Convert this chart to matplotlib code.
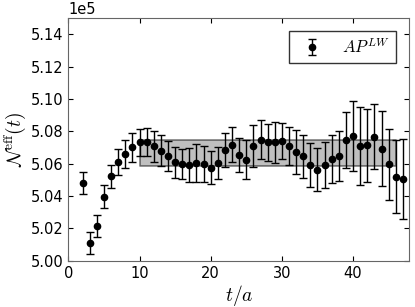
import matplotlib
matplotlib.use("Agg")
import matplotlib.pyplot as plt

# effective N(t), in units of 1e5
t = list(range(2, 48))
n_eff = [5.0482, 5.0111, 5.0216, 5.0396, 5.0521, 5.0610, 5.0660, 5.0702,
         5.0731, 5.0731, 5.0706, 5.0681, 5.0646, 5.0607, 5.0597, 5.0592,
         5.0605, 5.0597, 5.0574, 5.0603, 5.0683, 5.0718, 5.0652, 5.0623,
         5.0708, 5.0749, 5.0731, 5.0731, 5.0741, 5.0710, 5.0669, 5.0646,
         5.0594, 5.0563, 5.0592, 5.0628, 5.0648, 5.0745, 5.0770, 5.0708,
         5.0712, 5.0766, 5.0693, 5.0597, 5.0520, 5.0506]
n_err = [0.0068, 0.0068, 0.0068, 0.0070, 0.0073, 0.0078, 0.0085, 0.0089,
         0.0086, 0.0087, 0.0093, 0.0095, 0.0091, 0.0093, 0.0095, 0.0107,
         0.0116, 0.0110, 0.0103, 0.0099, 0.0105, 0.0107, 0.0105, 0.0120,
         0.0130, 0.0122, 0.0116, 0.0125, 0.0113, 0.0118, 0.0136, 0.0132,
         0.0136, 0.0132, 0.0144, 0.0147, 0.0155, 0.0175, 0.0215, 0.0240,
         0.0223, 0.0200, 0.0230, 0.0219, 0.0227, 0.0248]

# fit band
fit_range = [10, 46]
fit_val = 5.0665
fit_err = 0.0078
scale = 1e5

plt.rcParams['mathtext.fontset'] = 'cm'
plt.rcParams['xtick.direction'] = 'in'
plt.rcParams['ytick.direction'] = 'in'
plt.rcParams['xtick.top'] = True
plt.rcParams['ytick.right'] = True
plt.rcParams['font.size'] = 10.5

fig = plt.figure(figsize=(4.15, 3.07), dpi=100)
ax = fig.add_axes([0.1646, 0.1508, 0.8217, 0.7906])

ax.fill_between(fit_range,
                [(fit_val - fit_err) * scale] * 2,
                [(fit_val + fit_err) * scale] * 2,
                facecolor='gray', edgecolor='k', alpha=0.5, linewidth=1.2)

ax.errorbar(t, [v * scale for v in n_eff], yerr=[e * scale for e in n_err],
            fmt='o', color='k', ms=4.5, elinewidth=1, capsize=3,
            label=r'$AP^{LW}$')

ax.set_xlim(0, 47.9)
ax.set_ylim(5.00 * scale, 5.15 * scale)
ax.set_xticks([0, 10, 20, 30, 40])
ax.set_yticks([v * scale for v in [5.00, 5.02, 5.04, 5.06, 5.08, 5.10, 5.12, 5.14]])
ax.ticklabel_format(axis='y', style='sci', scilimits=(0, 0), useOffset=False)
for s in ax.spines.values():
    s.set_color('0.4')

ax.set_xlabel(r'$t/a$', fontsize=14, labelpad=2)
ax.set_ylabel(r'$\mathcal{N}^{\rm eff}(t)$', fontsize=14, labelpad=2)

leg = ax.legend(loc='upper right', numpoints=1, fancybox=False, fontsize=12,
                borderaxespad=0.8)
leg.get_frame().set_edgecolor('k')

fig.savefig('out.png', dpi=100)
